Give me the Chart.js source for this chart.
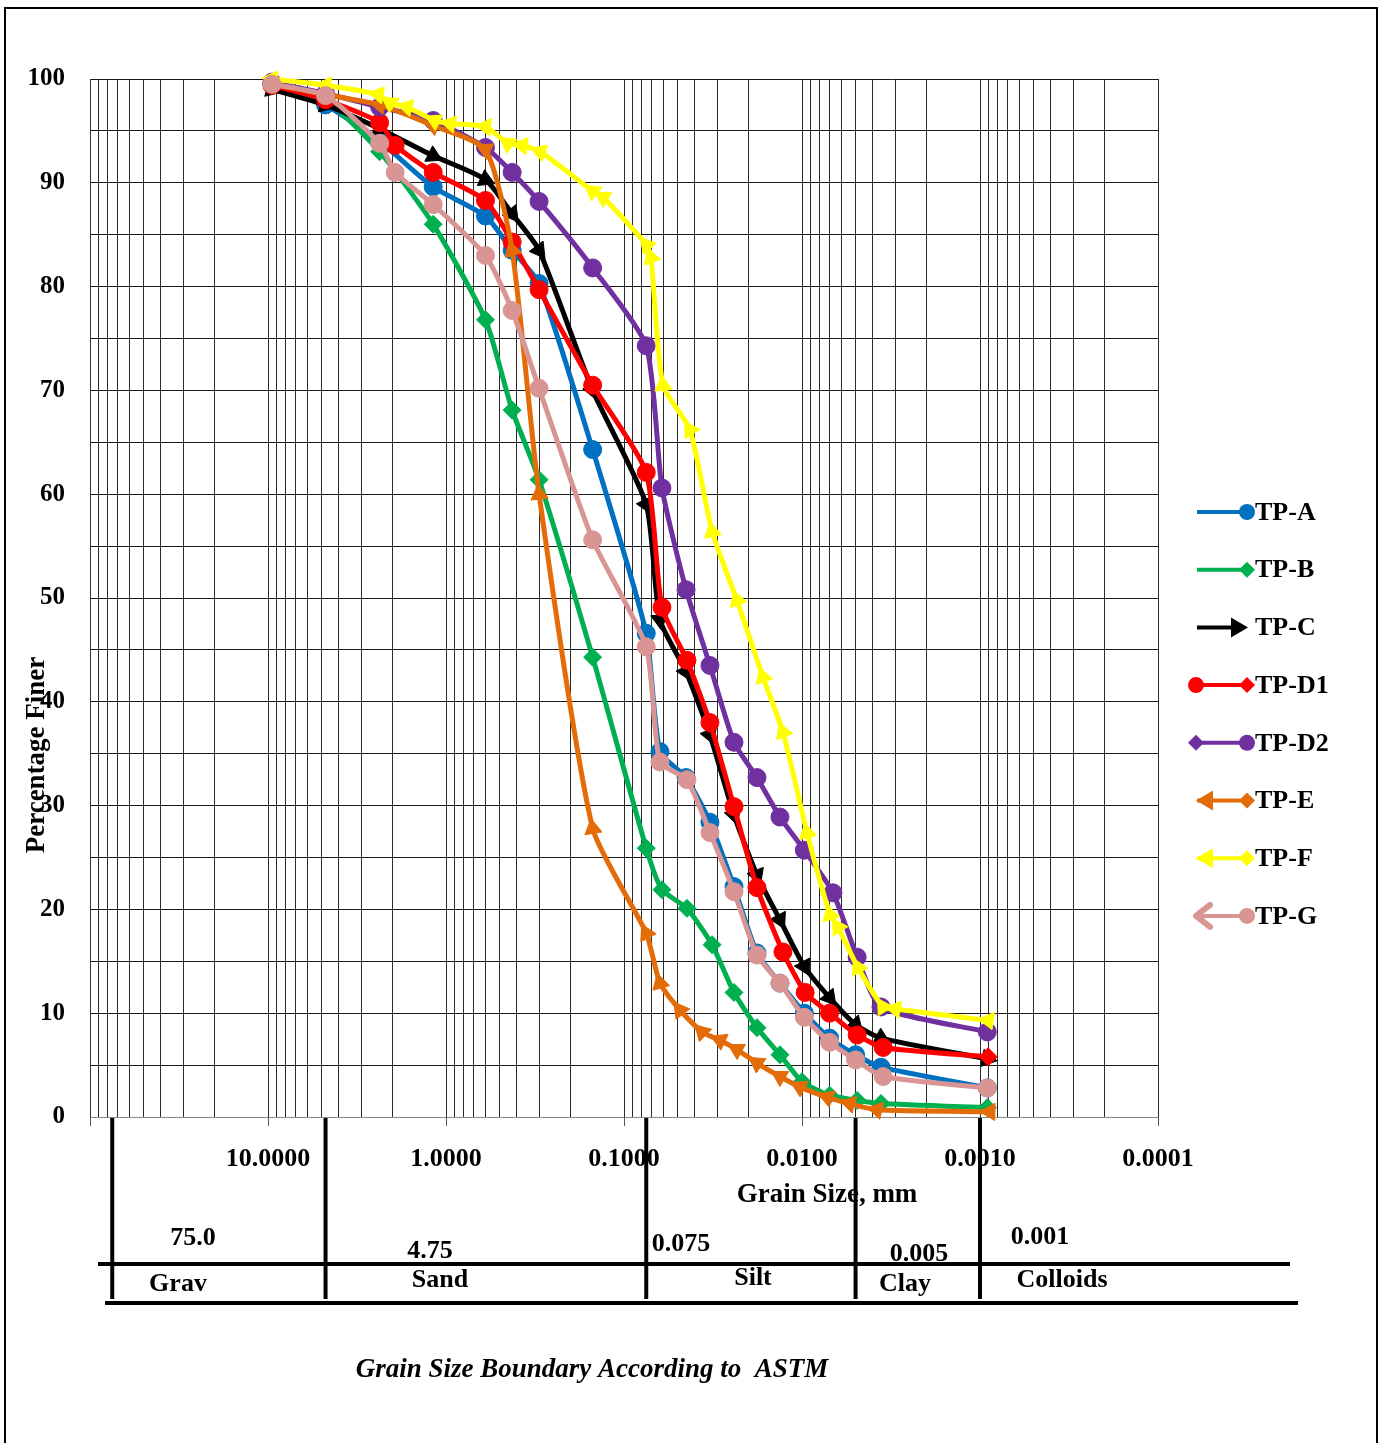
<!DOCTYPE html>
<html>
<head>
<meta charset="utf-8">
<title>Grain Size Distribution</title>
<script src="https://cdn.jsdelivr.net/npm/chart.js@4.4.1/dist/chart.umd.min.js"></script>
<style>
  html, body { margin: 0; padding: 0; background: #fff; }
  #grain { display: block; }
</style>
</head>
<body>
<canvas id="grain" width="1382" height="1443"></canvas>
<script>
const seriesNames = ["TP-A", "TP-B", "TP-C", "TP-D1", "TP-D2", "TP-E", "TP-F", "TP-G"];

// grain size (mm) and percentage finer, one pair per test pit
const sizeA = [9.5, 4.75, 2.36, 1.18, 0.6, 0.425, 0.3, 0.15, 0.075, 0.0628, 0.0448, 0.0329, 0.0241, 0.0179, 0.0133, 0.0097, 0.0070, 0.0050, 0.0036, 0.00091];
const finerA = [99.5, 97.5, 94.0, 89.6, 86.8, 83.5, 80.3, 64.3, 46.6, 35.2, 32.7, 28.4, 22.2, 15.8, 12.9, 10.0, 7.6, 6.0, 4.8, 2.8];

const sizeB = [9.5, 4.75, 2.36, 1.18, 0.6, 0.425, 0.3, 0.15, 0.075, 0.0612, 0.0443, 0.0320, 0.0241, 0.0179, 0.0133, 0.0100, 0.0070, 0.0049, 0.0036, 0.00091];
const finerB = [99.5, 98.0, 93.0, 86.0, 76.8, 68.1, 61.4, 44.3, 25.9, 21.9, 20.1, 16.6, 12.0, 8.6, 6.0, 3.4, 2.1, 1.6, 1.3, 0.9];

const sizeC = [9.5, 4.75, 2.36, 1.18, 0.6, 0.425, 0.3, 0.15, 0.075, 0.0628, 0.0448, 0.0329, 0.0241, 0.0179, 0.0133, 0.0097, 0.0070, 0.0050, 0.0036, 0.00091];
const finerC = [99.0, 97.5, 95.2, 92.6, 90.3, 87.0, 83.5, 70.0, 59.0, 47.9, 42.9, 36.8, 29.1, 23.3, 19.0, 14.5, 11.5, 8.9, 7.6, 5.6];

const sizeD1 = [9.5, 4.75, 2.36, 1.93, 1.18, 0.6, 0.425, 0.3, 0.15, 0.075, 0.0612, 0.0443, 0.0329, 0.0241, 0.0179, 0.0128, 0.0096, 0.0070, 0.0049, 0.0035, 0.0009];
const finerD1 = [99.4, 98.0, 95.8, 93.6, 91.0, 88.3, 84.3, 79.7, 70.5, 62.1, 49.1, 44.0, 38.0, 29.9, 22.1, 15.9, 12.0, 10.0, 7.9, 6.7, 5.8];

const sizeD2 = [9.5, 4.75, 2.36, 1.18, 0.6, 0.425, 0.3, 0.15, 0.075, 0.0612, 0.0448, 0.0329, 0.0241, 0.0179, 0.0133, 0.0097, 0.0067, 0.0049, 0.0036, 0.00091];
const finerD2 = [99.7, 98.6, 97.3, 96.0, 93.4, 91.0, 88.2, 81.8, 74.3, 60.6, 50.8, 43.5, 36.1, 32.7, 28.9, 25.7, 21.6, 15.4, 10.6, 8.2];

const sizeE = [9.5, 4.75, 2.36, 1.18, 0.6, 0.425, 0.3, 0.15, 0.075, 0.0628, 0.0485, 0.0365, 0.0289, 0.0232, 0.0179, 0.0133, 0.0103, 0.0072, 0.0054, 0.0038, 0.00088];
const finerE = [99.5, 98.5, 97.5, 95.5, 93.2, 83.5, 60.0, 27.8, 17.7, 12.9, 10.3, 8.2, 7.4, 6.5, 5.2, 3.9, 2.9, 1.9, 1.3, 0.7, 0.5];

const sizeF = [9.5, 4.75, 2.41, 2.06, 1.66, 1.16, 0.95, 0.6, 0.449, 0.374, 0.296, 0.150, 0.131, 0.0745, 0.0705, 0.0604, 0.0426, 0.0320, 0.0232, 0.0166, 0.0128, 0.00937, 0.00696, 0.00628, 0.00485, 0.00351, 0.0030, 0.0009];
const finerF = [100, 99.4, 98.5, 97.7, 97.3, 96.0, 95.7, 95.4, 93.8, 93.6, 93.0, 89.2, 88.6, 84.0, 82.8, 70.5, 66.2, 56.4, 49.8, 42.4, 37.1, 27.4, 19.5, 18.3, 14.4, 10.6, 10.4, 9.3];

const sizeG = [9.5, 4.75, 2.36, 1.93, 1.18, 0.6, 0.425, 0.3, 0.15, 0.075, 0.0628, 0.0443, 0.0329, 0.0241, 0.0179, 0.0133, 0.0097, 0.0070, 0.0050, 0.0035, 0.00091];
const finerG = [99.5, 98.4, 93.8, 91.0, 87.9, 83.0, 77.7, 70.2, 55.6, 45.3, 34.2, 32.5, 27.4, 21.7, 15.6, 12.9, 9.6, 7.2, 5.5, 3.9, 2.8];

const xTickValues = [10, 1, 0.1, 0.01, 0.001, 0.0001];
const xTickLabels = ["10.0000", "1.0000", "0.1000", "0.0100", "0.0010", "0.0001"];

// ASTM boundaries shown in the table under the axis
const boundarySizes = [75, 4.75, 0.075, 0.005, 0.001];
const boundaryLabels = ["75.0", "4.75", "0.075", "0.005", "0.001"];
const soilClasses = ["Grav", "Sand", "Silt", "Clay", "Colloids"];

const FONT = '"Liberation Serif", "DejaVu Serif", serif';

// log grid lines, 1..9 per decade
const gridSizes = [];
for (let e = -4; e <= 1; e++) {
  for (let m = 1; m <= 9; m++) gridSizes.push(+(m * Math.pow(10, e)).toPrecision(3));
}
gridSizes.push(100);

function toPoints(sizes, finer) {
  return sizes.map((s, i) => ({ x: s, y: finer[i] }));
}

// arrow markers follow the direction of the line
function arrowAngle(ctx, backwards) {
  if (ctx.type !== 'data') return 0;
  const pts = ctx.dataset.data;
  const i = ctx.dataIndex;
  const a = pts[Math.max(i - 1, 0)];
  const b = pts[Math.max(i, 1)];
  const sx = ctx.chart.scales.x, sy = ctx.chart.scales.y;
  const dx = sx.getPixelForValue(b.x) - sx.getPixelForValue(a.x);
  const dy = sy.getPixelForValue(b.y) - sy.getPixelForValue(a.y);
  const deg = Math.atan2(dy, dx) * 180 / Math.PI;
  return backwards ? deg - 90 : deg + 90;
}

function makeSeries(i, sizes, finer, color, style, radius, rotation) {
  return {
    label: seriesNames[i],
    data: toPoints(sizes, finer),
    borderColor: color,
    backgroundColor: color,
    borderWidth: 5,
    tension: 0.2,
    pointStyle: style,
    pointRadius: radius,
    pointBackgroundColor: color,
    pointBorderColor: color,
    pointBorderWidth: 1,
    pointRotation: rotation || 0,
    clip: false,
    order: 8 - i
  };
}

const colA = "#0070C0", colB = "#00B050", colC = "#000000", colD1 = "#FF0000";
const colD2 = "#7030A0", colE = "#E36C09", colF = "#FFFF00", colG = "#D99594";

const datasets = [
  makeSeries(0, sizeA, finerA, colA, 'circle', 9),
  makeSeries(1, sizeB, finerB, colB, 'rectRot', 9),
  makeSeries(2, sizeC, finerC, colC, 'triangle', 10, ctx => arrowAngle(ctx, false)),
  makeSeries(3, sizeD1, finerD1, colD1, ctx => ctx.dataIndex === sizeD1.length - 1 ? 'rectRot' : 'circle', 9),
  makeSeries(4, sizeD2, finerD2, colD2, 'circle', 9),
  makeSeries(5, sizeE, finerE, colE, 'triangle', 10, ctx => arrowAngle(ctx, true)),
  makeSeries(6, sizeF, finerF, colF, 'triangle', 10, ctx => arrowAngle(ctx, true)),
  makeSeries(7, sizeG, finerG, colG, 'circle', 9)
];

// legend keys: marker at the left and right end of the sample line
const legendKeys = [
  [null, 'circle'], [null, 'diamond'], [null, 'arrowRight'], ['circle', 'diamond'],
  ['diamond', 'circle'], ['arrowLeft', 'diamond'], ['arrowLeft', 'diamond'], ['chevron', 'circle']
];
const legendColors = [colA, colB, colC, colD1, colD2, colE, colF, colG];

function mark(c, style, x, y, r) {
  c.beginPath();
  if (style === 'circle') {
    c.arc(x, y, r, 0, Math.PI * 2);
  } else if (style === 'diamond') {
    c.moveTo(x, y - r); c.lineTo(x + r, y); c.lineTo(x, y + r); c.lineTo(x - r, y); c.closePath();
  } else if (style === 'arrowRight') {
    c.moveTo(x, y); c.lineTo(x - 17, y - 10); c.lineTo(x - 17, y + 10); c.closePath();
  } else if (style === 'arrowLeft') {
    c.moveTo(x, y); c.lineTo(x + 17, y - 10); c.lineTo(x + 17, y + 10); c.closePath();
  } else if (style === 'chevron') {
    c.moveTo(x + 14, y - 11); c.lineTo(x, y); c.lineTo(x + 14, y + 11);
    c.lineWidth = 6; c.lineCap = 'round'; c.lineJoin = 'round';
    c.stroke();
    return;
  }
  c.fill();
}

const gradingTable = {
  id: 'gradingTable',
  afterDraw(chart) {
    const c = chart.ctx;
    const xs = chart.scales.x;
    const bottom = chart.chartArea.bottom;
    c.save();

    // page frame
    c.strokeStyle = '#000';
    c.lineWidth = 2;
    c.strokeRect(5, 8, 1372, 1460);

    // major ticks below the axis
    c.lineWidth = 1;
    c.strokeStyle = '#555';
    xTickValues.concat([100]).forEach(v => {
      const px = Math.round(xs.getPixelForValue(v)) + 0.5;
      c.beginPath(); c.moveTo(px, bottom); c.lineTo(px, bottom + 9); c.stroke();
    });

    c.fillStyle = '#000';
    c.textAlign = 'center';
    c.textBaseline = 'middle';
    c.font = 'bold 27px ' + FONT;
    c.fillText('Grain Size, mm', 827, 1195);

    c.save();
    c.translate(37, 755);
    c.rotate(-Math.PI / 2);
    c.fillText('Percentage Finer', 0, 0);
    c.restore();

    // boundary values and class names
    c.font = 'bold 26px ' + FONT;
    const valuePos = [[193, 1238], [430, 1251], [681, 1244], [919, 1254], [1040, 1237]];
    boundaryLabels.forEach((t, i) => c.fillText(t, valuePos[i][0], valuePos[i][1]));
    const classPos = [[178, 1284], [440, 1280], [753, 1278], [905, 1284], [1062, 1280]];
    soilClasses.forEach((t, i) => c.fillText(t, classPos[i][0], classPos[i][1]));

    c.strokeStyle = '#000';
    c.lineWidth = 4;
    c.lineCap = 'butt';
    boundarySizes.forEach(b => {
      const px = xs.getPixelForValue(b);
      c.beginPath(); c.moveTo(px, bottom + 1); c.lineTo(px, 1299); c.stroke();
    });
    c.beginPath(); c.moveTo(98, 1264); c.lineTo(1290, 1264); c.stroke();
    c.beginPath(); c.moveTo(105, 1303); c.lineTo(1298, 1303); c.stroke();

    c.font = 'italic bold 27px ' + FONT;
    c.fillText('Grain Size Boundary According to  ASTM', 592, 1370);

    // legend
    seriesNames.forEach((name, i) => {
      const y = 512 + i * 57.7;
      const col = legendColors[i];
      c.strokeStyle = col;
      c.fillStyle = col;
      c.lineWidth = 4;
      c.lineCap = 'butt';
      c.beginPath(); c.moveTo(1197, y); c.lineTo(1244, y); c.stroke();
      const [left, right] = legendKeys[i];
      if (left) mark(c, left, 1196, y, 8);
      if (right) mark(c, right, right === 'arrowRight' ? 1248 : 1247, y, 8);
      c.fillStyle = '#000';
      c.textAlign = 'left';
      c.font = 'bold 26px ' + FONT;
      c.fillText(name, 1255, y + 1);
      c.textAlign = 'center';
    });

    c.restore();
  }
};

new Chart(document.getElementById('grain'), {
  type: 'line',
  data: { datasets: datasets },
  plugins: [gradingTable],
  options: {
    responsive: false,
    animation: false,
    layout: { padding: { left: 0, top: 79, right: 224, bottom: 0 } },
    plugins: {
      legend: { display: false },
      tooltip: { enabled: false }
    },
    scales: {
      x: {
        type: 'logarithmic',
        reverse: true,
        min: 0.0001,
        max: 100,
        afterBuildTicks: scale => { scale.ticks = gridSizes.map(v => ({ value: v })); },
        afterFit: scale => { scale.height = 326; },
        grid: { color: '#2a2a2a', lineWidth: 1, drawTicks: false },
        border: { color: '#888', width: 1 },
        ticks: {
          autoSkip: false,
          maxRotation: 0,
          minRotation: 0,
          padding: 27,
          color: '#000',
          font: { family: FONT, size: 26, weight: 'bold' },
          callback: value => {
            const k = xTickValues.findIndex(t => Math.abs(t - value) < t * 1e-6);
            return k >= 0 ? xTickLabels[k] : '';
          }
        }
      },
      y: {
        min: 0,
        max: 100,
        afterFit: scale => { scale.width = 90; },
        grid: { color: '#1a1a1a', lineWidth: 1, drawTicks: false },
        border: { color: '#333', width: 1 },
        ticks: {
          stepSize: 5,
          autoSkip: false,
          padding: 25,
          color: '#000',
          font: { family: FONT, size: 25, weight: 'bold' },
          callback: v => (v % 10 === 0 ? v : '')
        }
      }
    }
  }
});
</script>
</body>
</html>
